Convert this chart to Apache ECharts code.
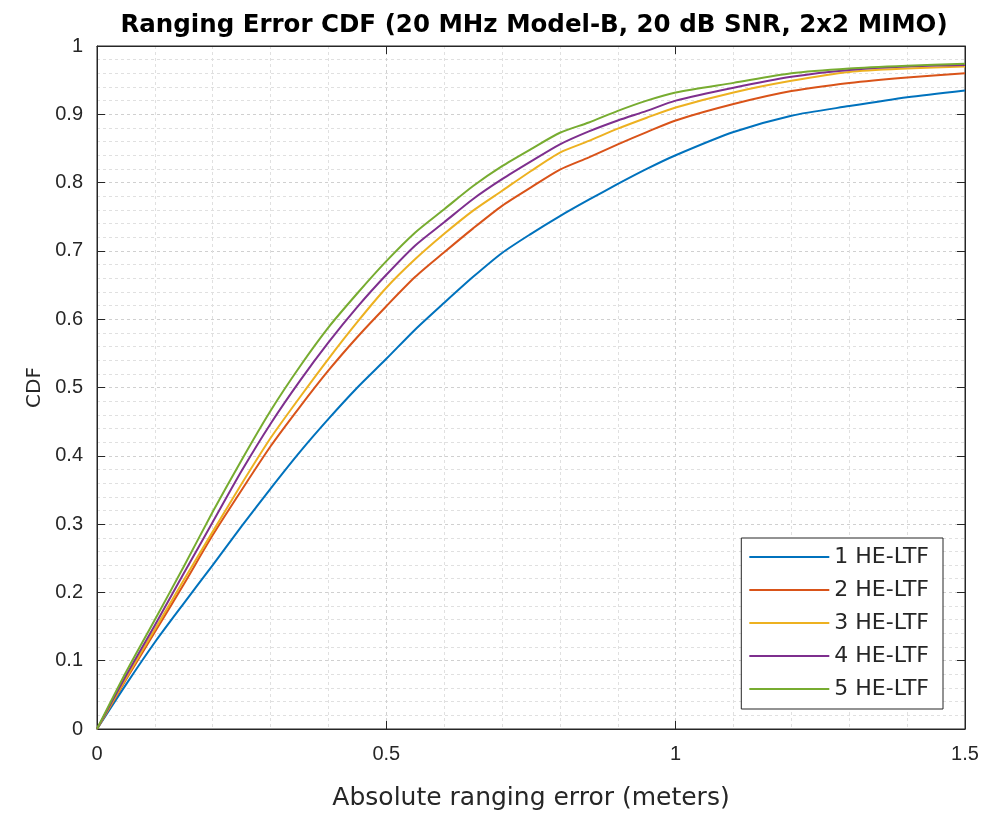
<!DOCTYPE html>
<html>
<head>
<meta charset="utf-8">
<script src="https://cdn.jsdelivr.net/npm/echarts@6/dist/echarts.min.js"></script>
<style>
html,body{margin:0;padding:0;background:#fff;}
#chart{width:988px;height:817px;}
</style>
</head>
<body>
<div id="chart"></div>
<script>
var xValues = [0, 0.05, 0.1, 0.15, 0.2, 0.25, 0.3, 0.35, 0.4, 0.45, 0.5, 0.55, 0.6, 0.65, 0.7, 0.75, 0.8, 0.85, 0.9, 0.95, 1.0, 1.1, 1.2, 1.3, 1.4, 1.5];
var ltf1 = [0, 0.065, 0.127, 0.184, 0.24, 0.297, 0.352, 0.405, 0.454, 0.50, 0.542, 0.585, 0.624, 0.662, 0.697, 0.725, 0.751, 0.775, 0.798, 0.82, 0.84, 0.874, 0.898, 0.912, 0.925, 0.935];
var ltf2 = [0, 0.072, 0.142, 0.212, 0.284, 0.350, 0.414, 0.471, 0.525, 0.574, 0.619, 0.662, 0.698, 0.733, 0.766, 0.793, 0.819, 0.837, 0.856, 0.874, 0.891, 0.915, 0.934, 0.946, 0.954, 0.960];
var ltf3 = [0, 0.074, 0.146, 0.218, 0.289, 0.359, 0.426, 0.485, 0.542, 0.596, 0.646, 0.688, 0.725, 0.759, 0.788, 0.817, 0.844, 0.861, 0.879, 0.895, 0.910, 0.932, 0.949, 0.962, 0.967, 0.970];
var ltf4 = [0, 0.078, 0.152, 0.228, 0.303, 0.378, 0.447, 0.509, 0.566, 0.618, 0.665, 0.708, 0.742, 0.776, 0.805, 0.831, 0.856, 0.875, 0.891, 0.905, 0.920, 0.939, 0.955, 0.965, 0.970, 0.972];
var ltf5 = [0, 0.083, 0.16, 0.238, 0.318, 0.394, 0.466, 0.530, 0.588, 0.638, 0.685, 0.727, 0.761, 0.795, 0.824, 0.849, 0.873, 0.888, 0.905, 0.92, 0.932, 0.946, 0.960, 0.967, 0.971, 0.974];
var seriesNames = ['1 HE-LTF', '2 HE-LTF', '3 HE-LTF', '4 HE-LTF', '5 HE-LTF'];
var seriesValues = [ltf1, ltf2, ltf3, ltf4, ltf5];
var colors = ['#0072BD', '#D95319', '#EDB120', '#7E2F8E', '#77AC30'];
var titleText = 'Ranging Error CDF (20 MHz Model-B, 20 dB SNR, 2x2 MIMO)';
var xLabel = 'Absolute ranging error (meters)';
var yLabel = 'CDF';

var fontTick = 'Liberation Sans, Arial, Helvetica, sans-serif';
var fontText = 'DejaVu Sans, Liberation Sans, sans-serif';
var axisColor = '#262626';

function pairs(ys){ return xValues.map(function(x,i){ return [x, ys[i]]; }); }

var series = seriesNames.map(function(name, i){
  return {
    name: name, type: 'line', data: pairs(seriesValues[i]),
    showSymbol: false, symbol: 'none', smooth: 0.25,
    lineStyle: {width: 2, color: colors[i]}, itemStyle: {color: colors[i]},
    xAxisIndex: 0, yAxisIndex: 0, z: 5 + i
  };
});

var gridLine = {show: true, lineStyle: {color: '#d0d0d0', type: [3, 3], width: 1}};
var minorLine = {show: true, lineStyle: {color: '#e0e0e0', type: [3, 3], width: 1}};
var tickStyle = {show: true, inside: true, length: 8, lineStyle: {color: axisColor, width: 1}};

var chart = echarts.init(document.getElementById('chart'), null, {renderer: 'canvas'});
chart.setOption({
  animation: false,
  backgroundColor: '#fff',
  title: {
    text: titleText, left: 529, top: 8, textAlign: 'center',
    textStyle: {fontFamily: fontText, fontSize: 24.5, fontWeight: 'bold', color: '#000'}
  },
  grid: {left: 97, right: 23, top: 46, bottom: 88, show: true, borderColor: axisColor, borderWidth: 1, backgroundColor: '#fff'},
  legend: {
    orient: 'vertical', right: 45, bottom: 108,
    data: seriesNames, icon: 'rect',
    itemWidth: 80, itemHeight: 2, itemGap: 11,
    backgroundColor: '#fff', borderColor: axisColor, borderWidth: 1, borderRadius: 0,
    padding: [8, 14, 9, 8],
    textStyle: {fontFamily: fontText, fontSize: 22, lineHeight: 22, color: axisColor}
  },
  xAxis: [{
    type: 'value', min: 0, max: 1.5, interval: 0.5, position: 'bottom',
    name: xLabel, nameLocation: 'middle', nameGap: 57,
    nameTextStyle: {fontFamily: fontText, fontSize: 25, color: axisColor},
    axisLine: {show: true, onZero: false, lineStyle: {color: axisColor, width: 1}},
    axisTick: tickStyle,
    axisLabel: {fontFamily: fontTick, fontSize: 20, color: axisColor, margin: 15},
    splitLine: gridLine,
    minorTick: {show: false, splitNumber: 5},
    minorSplitLine: minorLine
  }, {
    type: 'value', min: 0, max: 1.5, interval: 0.5, position: 'top',
    axisLine: {show: true, onZero: false, lineStyle: {color: axisColor}},
    axisTick: tickStyle,
    axisLabel: {show: false}, splitLine: {show: false}
  }],
  yAxis: [{
    type: 'value', min: 0, max: 1, interval: 0.1, position: 'left',
    name: yLabel, nameLocation: 'middle', nameGap: 52, nameRotate: 90,
    nameTextStyle: {fontFamily: fontText, fontSize: 20, color: axisColor},
    axisLine: {show: true, onZero: false, lineStyle: {color: axisColor, width: 1}},
    axisTick: tickStyle,
    axisLabel: {fontFamily: fontTick, fontSize: 20, color: axisColor, margin: 14},
    splitLine: gridLine,
    minorTick: {show: false, splitNumber: 5},
    minorSplitLine: minorLine
  }, {
    type: 'value', min: 0, max: 1, interval: 0.1, position: 'right',
    axisLine: {show: true, onZero: false, lineStyle: {color: axisColor}},
    axisTick: tickStyle,
    axisLabel: {show: false}, splitLine: {show: false}
  }],
  series: series
});
</script>
</body>
</html>
